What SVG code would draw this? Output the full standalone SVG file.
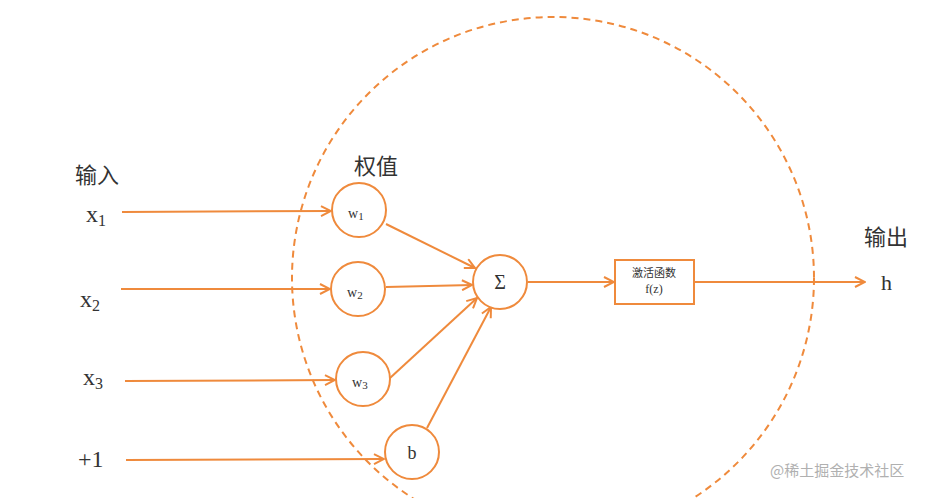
<svg xmlns="http://www.w3.org/2000/svg" width="949" height="498" viewBox="0 0 949 498">
<style>
.n{fill:#fff;stroke:#ef8a3c;stroke-width:2}
.e{stroke:#ef8a3c;stroke-width:2;fill:none;marker-end:url(#a)}
.t{font-family:"Liberation Serif","Noto Sans CJK SC",serif;fill:#333}
.c{font-family:"Noto Sans CJK SC",sans-serif;fill:#333}
</style>
<defs><marker id="a" markerWidth="12" markerHeight="12" refX="11" refY="6" orient="auto" markerUnits="userSpaceOnUse"><path d="M1,1 L11,6 L1,11" fill="none" stroke="#ef8a3c" stroke-width="2"/></marker></defs>
<rect width="949" height="498" fill="#fff"/>
<circle cx="553" cy="278" r="261" fill="none" stroke="#ef8a3c" stroke-width="2" stroke-dasharray="7,5"/>
<g id="connectors">
<line class="e" x1="122" y1="212" x2="331" y2="211"/>
<line class="e" x1="121" y1="289" x2="330" y2="289"/>
<line class="e" x1="125" y1="381" x2="335" y2="380"/>
<line class="e" x1="126" y1="460" x2="384" y2="459"/>
<line class="e" x1="386" y1="224" x2="475" y2="268"/>
<line class="e" x1="386" y1="287" x2="472" y2="285"/>
<line class="e" x1="390" y1="378" x2="477" y2="298"/>
<line class="e" x1="427" y1="428" x2="491" y2="307"/>
<line class="e" x1="528" y1="282" x2="614" y2="282"/>
<line class="e" x1="695" y1="282" x2="865" y2="282"/>
</g>
<g id="w1"><circle class="n" cx="359" cy="210" r="27"/><text class="t" x="348" y="218" font-size="14">w<tspan font-size="11" dy="2">1</tspan></text></g>
<g id="w2"><circle class="n" cx="358" cy="289" r="27"/><text class="t" x="347" y="297" font-size="14">w<tspan font-size="11" dy="2">2</tspan></text></g>
<g id="w3"><circle class="n" cx="363" cy="379" r="27"/><text class="t" x="352" y="387" font-size="14">w<tspan font-size="11" dy="2">3</tspan></text></g>
<g id="b"><circle class="n" cx="412" cy="452" r="27"/><text class="t" x="412" y="459" font-size="18" text-anchor="middle">b</text></g>
<g id="sum"><circle class="n" cx="500" cy="282" r="27"/><text class="t" x="500" y="289" font-size="20" text-anchor="middle">Σ</text></g>
<g id="act"><rect class="n" x="615" y="260" width="79" height="44"/><text class="c" x="654" y="277" font-size="11" text-anchor="middle">激活函数</text><text class="t" x="654" y="293" font-size="12" text-anchor="middle">f(z)</text></g>
<g id="labels">
<text class="c" x="75" y="183" font-size="22">输入</text>
<text class="c" x="354" y="174" font-size="22">权值</text>
<text class="c" x="864" y="245" font-size="22">输出</text>
<text class="t" x="86" y="222" font-size="24">x<tspan font-size="16" dy="4">1</tspan></text>
<text class="t" x="80" y="307" font-size="24">x<tspan font-size="16" dy="4">2</tspan></text>
<text class="t" x="83" y="385" font-size="24">x<tspan font-size="16" dy="4">3</tspan></text>
<text class="t" x="78" y="467" font-size="24">+1</text>
<text class="t" x="881" y="290" font-size="22">h</text>
<text class="c" x="770" y="476" font-size="15" fill="#aaa" style="fill:#b0b0b0">@稀土掘金技术社区</text>
</g>
</svg>
